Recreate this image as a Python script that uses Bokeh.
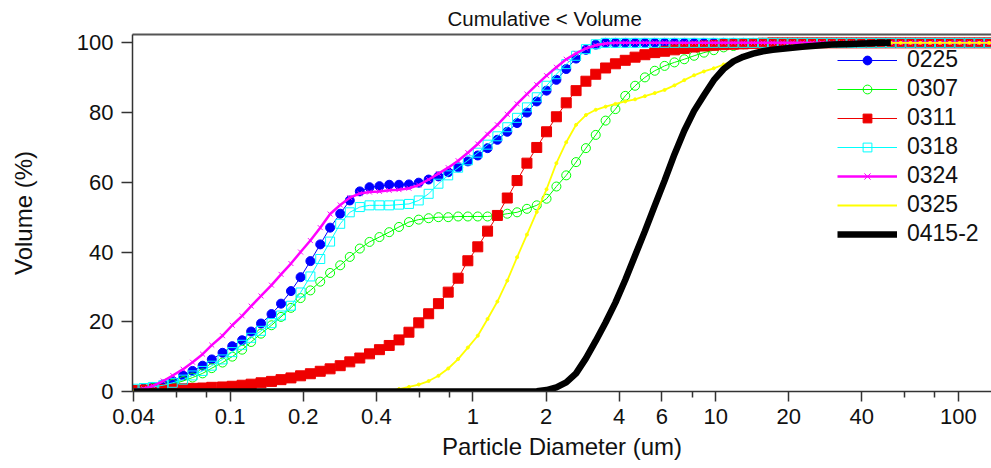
from bokeh.plotting import figure
from bokeh.models import (Range1d, FixedTicker, LogAxis, Legend, LegendItem,
                          NumeralTickFormatter)
from bokeh.embed import file_html
from bokeh.resources import INLINE

# Particle diameter channels (um)
diameters = [
    0.040, 0.044, 0.048, 0.053, 0.058, 0.064, 0.070, 0.077, 0.084, 0.093,
    0.102, 0.112, 0.122, 0.134, 0.148, 0.162, 0.178, 0.195, 0.214, 0.235,
    0.258, 0.284, 0.311, 0.342, 0.375, 0.412, 0.452, 0.496, 0.545, 0.598,
    0.657, 0.721, 0.791, 0.869, 0.953, 1.047, 1.149, 1.261, 1.385, 1.520,
    1.669, 1.832, 2.010, 2.207, 2.423, 2.660, 2.920, 3.205, 3.519, 3.863,
    4.240, 4.655, 5.110, 5.610, 6.158, 6.760, 7.421, 8.147, 8.943, 9.818,
    10.78, 11.83, 12.99, 14.26, 15.65, 17.18, 18.86, 20.71, 22.73, 24.95,
    27.39, 30.07, 33.01, 36.24, 39.78, 43.67, 47.94, 52.62, 57.77, 63.41,
    69.61, 76.42, 83.89, 92.09, 101.1, 111.0, 121.8, 133.7, 146.8,
]

vol_0225 = [
    0.5, 0.8, 1.3, 2.0, 3.0, 4.6, 5.9, 7.4, 9.2, 11.1,
    13.0, 14.7, 17.2, 19.5, 22.2, 25.2, 28.8, 32.8, 37.4, 42.2,
    47.0, 51.0, 54.8, 57.4, 58.6, 58.9, 59.3, 59.3, 59.4, 59.9,
    60.8, 61.7, 62.9, 64.3, 66.0, 67.7, 69.8, 72.2, 74.5, 77.0,
    80.0, 83.2, 86.3, 89.4, 92.5, 95.5, 98.0, 99.5, 100, 100,
    100, 100, 100, 100, 100, 100, 100, 100, 100, 100,
    100, 100, 100, 100, 100, 100, 100, 100, 100, 100,
    100, 100, 100, 100, 100, 100, 100, 100, 100, 100,
    100, 100, 100, 100, 100, 100, 100, 100, 100,
]

vol_0307 = [
    0.3, 0.6, 1.0, 1.5, 2.2, 3.0, 4.0, 5.2, 6.7, 8.3,
    10.0, 12.0, 14.2, 16.6, 19.0, 21.4, 24.0, 26.8, 29.0, 31.5,
    34.0, 36.2, 38.6, 41.0, 42.9, 44.3, 45.7, 47.2, 48.6, 49.3,
    49.7, 50.0, 50.0, 50.2, 50.2, 50.2, 50.2, 50.5, 51.0, 51.4,
    52.4, 53.4, 55.3, 58.8, 62.0, 65.8, 69.8, 73.6, 77.7, 81.0,
    84.8, 87.7, 90.1, 92.0, 93.4, 94.4, 95.3, 96.3, 97.2, 97.9,
    98.7, 99.1, 99.6, 99.8, 100, 100, 100, 100, 100, 100,
    100, 100, 100, 100, 100, 100, 100, 100, 100, 100,
    100, 100, 100, 100, 100, 100, 100, 100, 100,
]

vol_0311 = [
    0.3, 0.4, 0.5, 0.6, 0.7, 0.8, 0.9, 1.0, 1.2, 1.3,
    1.5, 1.8, 2.1, 2.5, 2.9, 3.4, 3.9, 4.5, 5.1, 5.8,
    6.5, 7.4, 8.5, 9.6, 10.8, 12.0, 13.2, 14.8, 17.0, 19.7,
    22.3, 25.2, 28.5, 32.5, 37.5, 41.5, 46.0, 50.5, 55.5, 60.5,
    65.5, 70.0, 74.5, 78.8, 82.8, 86.3, 89.0, 91.0, 92.8, 94.0,
    95.0, 95.9, 96.6, 97.2, 97.6, 98.0, 98.4, 98.8, 99.1, 99.3,
    99.5, 99.6, 99.7, 99.8, 99.9, 100, 100, 100, 100, 100,
    100, 100, 100, 100, 100, 100, 100, 100, 100, 100,
    100, 100, 100, 100, 100, 100, 100, 100, 100,
]

vol_0318 = [
    0.8, 1.0, 1.3, 1.8, 2.5, 3.4, 4.6, 5.9, 7.4, 9.2,
    11.3, 13.4, 15.4, 17.4, 19.6, 21.8, 24.6, 28.4, 33.0, 38.0,
    43.0, 48.1, 51.4, 52.9, 53.4, 53.4, 53.4, 53.6, 53.8, 54.8,
    56.7, 59.6, 62.0, 64.2, 66.3, 68.5, 70.8, 73.2, 75.8, 78.5,
    81.5, 84.4, 87.7, 91.0, 93.9, 96.3, 98.2, 99.6, 100, 100,
    100, 100, 100, 100, 100, 100, 100, 100, 100, 100,
    100, 100, 100, 100, 100, 100, 100, 100, 100, 100,
    100, 100, 100, 100, 100, 100, 100, 100, 100, 100,
    100, 100, 100, 100, 100, 100, 100, 100, 100,
]

vol_0324 = [
    0.3, 0.8, 1.6, 3.0, 4.6, 6.4, 8.4, 10.7, 13.3, 16.0,
    19.0, 21.7, 24.5, 27.4, 30.5, 33.6, 36.7, 40.0, 43.3, 47.0,
    50.9, 53.5, 55.6, 56.8, 57.2, 57.4, 57.7, 57.9, 58.3, 59.2,
    60.8, 62.5, 64.2, 66.2, 68.5, 71.0, 73.8, 76.5, 79.5, 82.5,
    85.3, 88.0, 90.6, 93.0, 95.3, 97.0, 98.4, 99.3, 99.8, 100,
    100, 100, 100, 100, 100, 100, 100, 100, 100, 100,
    100, 100, 100, 100, 100, 100, 100, 100, 100, 100,
    100, 100, 100, 100, 100, 100, 100, 100, 100, 100,
    100, 100, 100, 100, 100, 100, 100, 100, 100,
]

vol_0325 = [
    0, 0, 0, 0, 0, 0, 0, 0, 0, 0,
    0, 0, 0, 0, 0, 0, 0, 0, 0, 0,
    0, 0, 0, 0, 0, 0, 0.2, 0.7, 1.3, 2.0,
    3.0, 4.5, 6.6, 9.3, 12.6, 16.0, 20.8, 25.8, 31.8, 38.5,
    45.0, 51.5, 58.0, 65.5, 71.5, 76.5, 79.3, 80.8, 81.7, 82.5,
    83.2, 83.8, 84.7, 85.6, 86.5, 87.8, 89.3, 90.7, 91.8, 92.7,
    93.8, 95.0, 96.0, 96.8, 97.5, 98.1, 98.6, 99.0, 99.3, 99.5,
    99.7, 99.8, 100, 100, 100, 100, 100, 100, 100, 100,
    100, 100, 100, 100, 100, 100, 100, 100, 100,
]

vol_0415_2 = [
    0, 0, 0, 0, 0, 0, 0, 0, 0, 0,
    0, 0, 0, 0, 0, 0, 0, 0, 0, 0,
    0, 0, 0, 0, 0, 0, 0, 0, 0, 0,
    0, 0, 0, 0, 0, 0, 0, 0, 0, 0,
    0, 0.1, 0.4, 1.2, 2.6, 5.2, 9.5, 14.5, 19.8, 25.5,
    32.0, 39.0, 46.0, 53.3, 60.5, 68.0, 74.8, 80.5, 85.0, 89.3,
    92.5, 94.7, 96.0, 96.9, 97.6, 98.0, 98.3, 98.6, 98.9, 99.1,
    99.3, 99.5, 99.6, 99.7, 99.8, 99.9, 100, 100,
]

series_names = ["0225", "0307", "0311", "0318", "0324", "0325", "0415-2"]
series_values = [vol_0225, vol_0307, vol_0311, vol_0318, vol_0324, vol_0325, vol_0415_2]

x_ticks = [0.04, 0.1, 0.2, 0.4, 1, 2, 4, 6, 10, 20, 40, 100]
x_minor_ticks = [0.06, 0.08, 0.6, 0.8, 8, 60, 80]
y_ticks = [0, 20, 40, 60, 80, 100]

FONT = "Liberation Sans"

p = figure(width=991, height=468, x_axis_type="log",
           x_range=Range1d(0.0396, 136.8), y_range=Range1d(0, 102.4),
           output_backend="svg", toolbar_location=None,
           min_border_left=132, min_border_right=0, min_border_top=34,
           min_border_bottom=77, title="Cumulative < Volume")
p.outline_line_color = None
p.xgrid.visible = False
p.ygrid.visible = False
p.background_fill_color = "white"

p.title.text_font = FONT
p.title.text_font_size = "20.5px"
p.title.text_font_style = "normal"
p.title.text_color = "#111111"
p.title.align = "left"
p.title.offset = 315
p.title.standoff = 9

xa = p.below[0]
ya = p.left[0]
xa.ticker = FixedTicker(ticks=x_ticks, minor_ticks=x_minor_ticks)
xa.formatter = NumeralTickFormatter(format="0.[00]")
xa.axis_label = "Particle Diameter (um)"
ya.ticker = FixedTicker(ticks=y_ticks, minor_ticks=[])
ya.axis_label = "Volume (%)"

for ax in (xa, ya):
    ax.axis_line_color = "#333333"
    ax.axis_line_width = 1.5
    ax.major_tick_line_color = "#333333"
    ax.minor_tick_line_color = "#333333"
    ax.major_tick_line_width = 1.5
    ax.minor_tick_line_width = 1.5
    ax.major_tick_in = 0
    ax.minor_tick_in = 0
    ax.major_tick_out = 10
    ax.minor_tick_out = 6
    ax.major_label_text_font = FONT
    ax.major_label_text_font_size = "22px"
    ax.major_label_text_color = "#111111"
    ax.axis_label_text_font = FONT
    ax.axis_label_text_font_size = "24px"
    ax.axis_label_text_font_style = "normal"
    ax.axis_label_text_color = "#111111"
xa.major_label_standoff = 7
xa.axis_label_standoff = 6
ya.major_tick_out = 11
ya.major_label_standoff = 8
ya.axis_label_standoff = 37

# top frame line (no ticks, no labels)
top_axis = LogAxis(ticker=FixedTicker(ticks=[], minor_ticks=[]),
                   major_label_text_font_size="0px",
                   axis_line_color="#555555", axis_line_width=2,
                   major_tick_out=0, minor_tick_out=0,
                   major_label_standoff=0)
p.add_layout(top_axis, "above")

items = []
styles = [
    dict(color="#0000ff", lw=1, marker="circle", size=9, fill=True),
    dict(color="#00ff00", lw=1, marker="circle", size=9, fill=False),
    dict(color="#ee0000", lw=1, marker="square", size=10, fill=True),
    dict(color="#00ffff", lw=1, marker="square", size=9, fill=False),
    dict(color="#ff00ff", lw=2.5, marker="x", size=7, fill=False),
    dict(color="#ffff00", lw=1.8, marker="circle", size=3, fill=True),
    dict(color="#000000", lw=6.5, marker=None, size=0, fill=False),
]
for name, vals, st in zip(series_names, series_values, styles):
    xs = diameters[:len(vals)]
    line_r = p.line(xs, vals, line_color=st["color"], line_width=st["lw"])
    rs = [line_r]
    if st["marker"]:
        sc = p.scatter(xs, vals, marker=st["marker"], size=st["size"],
                       line_color=st["color"], line_width=1,
                       fill_color=st["color"] if st["fill"] else None)
        if st["size"] > 4:
            rs.append(sc)
    items.append(LegendItem(label=name, renderers=rs))

legend = Legend(items=items, location=(705, 143), glyph_width=60,
                glyph_height=22, label_height=29, spacing=0, padding=0,
                margin=0, label_standoff=10, label_text_font=FONT,
                label_text_font_size="23px", label_text_color="#111111",
                border_line_color=None, background_fill_alpha=0)
p.add_layout(legend, "center")

open("out.html", "w").write(file_html(p, INLINE))
